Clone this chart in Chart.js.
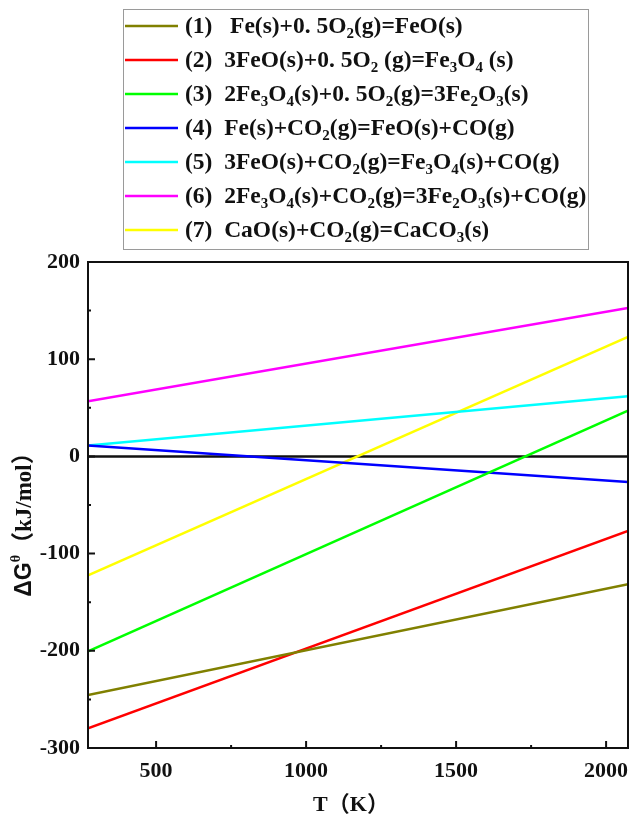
<!DOCTYPE html>
<html>
<head>
<meta charset="utf-8">
<script src="https://cdn.jsdelivr.net/npm/chart.js@4.4.1/dist/chart.umd.min.js"></script>
<style>
html, body { margin: 0; padding: 0; background: #fff; }
</style>
</head>
<body>
<canvas id="chart" width="630" height="818"></canvas>
<script>
// temperature range (K) and the end values of each straight line (kJ/mol)
const temps = [273, 2073];
const dg1 = [-245.6, -131.4];
const dg2 = [-279.8, -76.7];
const dg3 = [-200.5, 47.2];
const dg4 = [11.3, -26.4];
const dg5 = [11.3, 61.9];
const dg6 = [56.8, 152.7];
const dg7 = [-122.5, 123.0];
const zeroLine = [0, 0];

// labels, "_n" means subscript
const labels = [
  '(1)   Fe(s)+0. 5O_2(g)=FeO(s)',
  '(2)  3FeO(s)+0. 5O_2 (g)=Fe_3O_4 (s)',
  '(3)  2Fe_3O_4(s)+0. 5O_2(g)=3Fe_2O_3(s)',
  '(4)  Fe(s)+CO_2(g)=FeO(s)+CO(g)',
  '(5)  3FeO(s)+CO_2(g)=Fe_3O_4(s)+CO(g)',
  '(6)  2Fe_3O_4(s)+CO_2(g)=3Fe_2O_3(s)+CO(g)',
  '(7)  CaO(s)+CO_2(g)=CaCO_3(s)'
];
const colors = ['#808000', '#ff0000', '#00ff00', '#0000ff', '#00ffff', '#ff00ff', '#ffff00'];

const xTicks = [500, 1000, 1500, 2000];
const xMinor = [750, 1250, 1750];
const yTicks = [-300, -200, -100, 0, 100, 200];
const yMinor = [-250, -150, -50, 50, 150];

const serif = '"Liberation Serif", "Times New Roman", "Noto Sans CJK SC", serif';
const sans = '"Liberation Sans", Arial, sans-serif';

function pts(vals) {
  return temps.map((t, i) => ({ x: t, y: vals[i] }));
}

const series = [dg1, dg2, dg3, dg4, dg5, dg6, dg7];
const datasets = series.map((s, i) => ({
  label: labels[i],
  data: pts(s),
  borderColor: colors[i],
  borderWidth: 2.5,
  pointRadius: 0,
  showLine: true,
  fill: false
}));
datasets.push({
  label: 'zero',
  data: pts(zeroLine),
  borderColor: '#111',
  borderWidth: 2.5,
  pointRadius: 0,
  showLine: true,
  inLegend: false
});

// split "_n" into subscript pieces
function parseLabel(str) {
  const segs = [];
  let buf = '';
  for (let i = 0; i < str.length; i++) {
    if (str[i] === '_' && i + 1 < str.length) {
      if (buf) segs.push({ t: buf, k: 'n' });
      buf = '';
      segs.push({ t: str[i + 1], k: 'sub' });
      i++;
    } else {
      buf += str[i];
    }
  }
  if (buf) segs.push({ t: buf, k: 'n' });
  return segs;
}

function segFont(seg, size) {
  const fam = seg.f || serif;
  const sz = seg.k === 'n' ? size : Math.round(size * 0.62);
  return 'bold ' + sz + 'px ' + fam;
}

function richWidth(ctx, segs, size) {
  let w = 0;
  segs.forEach(s => { ctx.font = segFont(s, size); w += ctx.measureText(s.t).width; });
  return w;
}

function drawRich(ctx, segs, x, y, size) {
  let cx = x;
  ctx.textBaseline = 'middle';
  ctx.textAlign = 'left';
  segs.forEach(s => {
    ctx.font = segFont(s, size);
    let dy = 0;
    if (s.k === 'sub') dy = size * 0.3;
    if (s.k === 'sup') dy = -size * 0.38;
    ctx.fillText(s.t, cx, y + dy);
    cx += ctx.measureText(s.t).width;
  });
}

const framePlugin = {
  id: 'frameAndLegend',
  afterDraw(chart) {
    const ctx = chart.ctx;
    const a = chart.chartArea;
    const xs = chart.scales.x, ys = chart.scales.y;
    ctx.save();

    // frame
    ctx.strokeStyle = '#111';
    ctx.lineWidth = 2;
    ctx.strokeRect(a.left, a.top, a.right - a.left, a.bottom - a.top);

    // inward ticks
    ctx.lineWidth = 2;
    ctx.beginPath();
    xTicks.forEach(v => { const p = xs.getPixelForValue(v); ctx.moveTo(p, a.bottom); ctx.lineTo(p, a.bottom - 7); });
    xMinor.forEach(v => { const p = xs.getPixelForValue(v); ctx.moveTo(p, a.bottom); ctx.lineTo(p, a.bottom - 3); });
    yTicks.forEach(v => { const p = ys.getPixelForValue(v); ctx.moveTo(a.left, p); ctx.lineTo(a.left + 7, p); });
    yMinor.forEach(v => { const p = ys.getPixelForValue(v); ctx.moveTo(a.left, p); ctx.lineTo(a.left + 3, p); });
    ctx.stroke();

    // legend
    ctx.strokeStyle = '#9a9a9a';
    ctx.lineWidth = 1;
    ctx.strokeRect(123.5, 9.5, 465, 240);
    chart.data.datasets.filter(d => d.inLegend !== false).forEach((d, i) => {
      const y = 26 + i * 34;
      ctx.strokeStyle = d.borderColor;
      ctx.lineWidth = 2.5;
      ctx.beginPath();
      ctx.moveTo(125, y);
      ctx.lineTo(178, y);
      ctx.stroke();
      ctx.fillStyle = '#111';
      drawRich(ctx, parseLabel(d.label), 185, y + 1, 23.5);
    });

    // x title
    ctx.fillStyle = '#111';
    const xt = [{ t: 'T（K）', k: 'n' }];
    drawRich(ctx, xt, 351 - richWidth(ctx, xt, 22) / 2, 805, 22);

    // y title
    const yt = [
      { t: 'ΔG', k: 'n', f: sans },
      { t: 'θ', k: 'sup' },
      { t: '（kJ/mol）', k: 'n' }
    ];
    ctx.translate(25, 519);
    ctx.rotate(-Math.PI / 2);
    drawRich(ctx, yt, -richWidth(ctx, yt, 23) / 2, 0, 23);
    ctx.restore();
  }
};

function noPad(s) {
  s.paddingLeft = 0;
  s.paddingRight = 0;
  s.paddingTop = 0;
  s.paddingBottom = 0;
}

new Chart(document.getElementById('chart'), {
  type: 'scatter',
  data: { datasets: datasets },
  options: {
    responsive: false,
    animation: false,
    devicePixelRatio: 1,
    layout: { padding: { top: 262, right: 2, left: 0, bottom: 0 } },
    plugins: { legend: { display: false }, tooltip: { enabled: false } },
    scales: {
      x: {
        type: 'linear',
        min: 273,
        max: 2073,
        grid: { display: false, drawTicks: false },
        border: { display: false },
        afterBuildTicks: s => { s.ticks = xTicks.map(v => ({ value: v })); },
        afterFit: s => { s.height = 70; noPad(s); },
        ticks: { color: '#111', padding: 10, callback: v => String(v), font: { family: serif, size: 22, weight: 'bold' } }
      },
      y: {
        type: 'linear',
        min: -300,
        max: 200,
        grid: { display: false, drawTicks: false },
        border: { display: false },
        afterBuildTicks: s => { s.ticks = yTicks.map(v => ({ value: v })); },
        afterFit: s => { s.width = 88; noPad(s); },
        ticks: { color: '#111', padding: 8, callback: v => String(v), font: { family: serif, size: 22, weight: 'bold' } }
      }
    }
  },
  plugins: [framePlugin]
});
</script>
</body>
</html>
